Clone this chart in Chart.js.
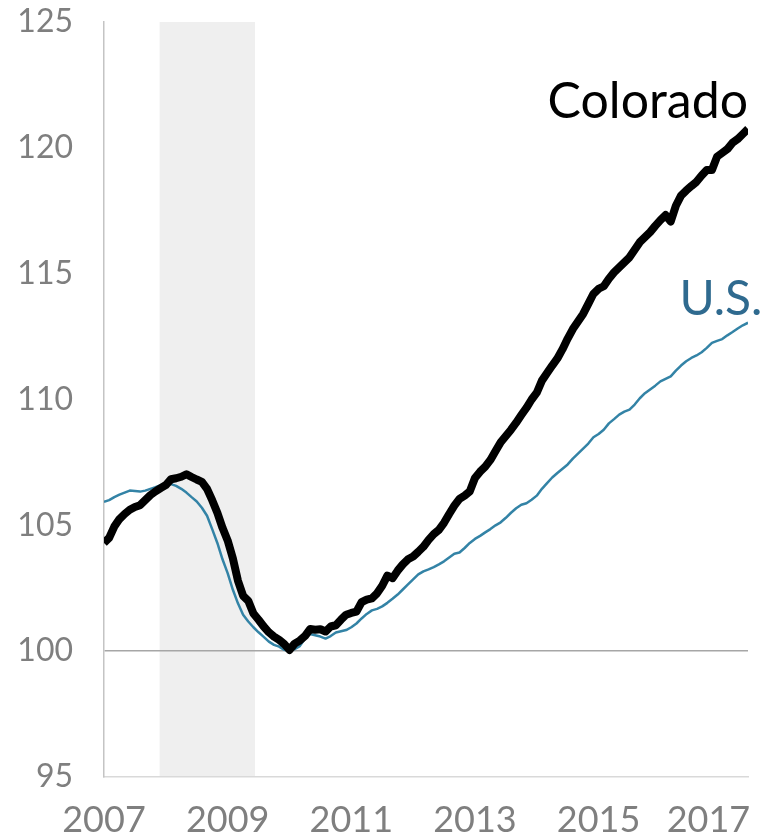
<!DOCTYPE html>
<html>
<head>
<meta charset="utf-8">
<script src="https://cdn.jsdelivr.net/npm/chart.js@4.4.1/dist/chart.umd.min.js"></script>
<style>
	body { margin: 0; background: #fff; }
	#canvas { display: block; }
</style>
</head>
<body>
<canvas id="canvas" width="765" height="837"></canvas>
<script>
// monthly index, Jan 2007 .. Jun 2017 (trough = 100)
const COLORADO = [
	104.3, 104.5, 104.95, 105.25, 105.45, 105.62, 105.73, 105.8, 106.0, 106.2,
	106.35, 106.48, 106.6, 106.83, 106.87, 106.93, 107.03, 106.92, 106.82, 106.73,
	106.45, 106.0, 105.5, 104.9, 104.4, 103.7, 102.8, 102.2, 102.0, 101.5,
	101.25, 100.98, 100.75, 100.58, 100.45, 100.28, 100.05, 100.3, 100.42, 100.6,
	100.88, 100.85, 100.87, 100.78, 100.98, 101.03, 101.25, 101.45, 101.52, 101.57,
	101.95, 102.05, 102.1, 102.3, 102.6, 103.0, 102.9, 103.2, 103.45, 103.65,
	103.76, 103.95, 104.15, 104.42, 104.65, 104.82, 105.1, 105.45, 105.78, 106.05,
	106.18, 106.35, 106.88, 107.13, 107.33, 107.6, 107.95, 108.3, 108.55, 108.8,
	109.08, 109.38, 109.67, 110.0, 110.27, 110.75, 111.05, 111.35, 111.63, 112.0,
	112.42, 112.8, 113.1, 113.4, 113.8, 114.2, 114.4, 114.5, 114.8, 115.05,
	115.25, 115.45, 115.65, 115.95, 116.25, 116.45, 116.65, 116.9, 117.13, 117.33,
	117.07, 117.7, 118.1, 118.3, 118.48, 118.65, 118.9, 119.12, 119.12, 119.65,
	119.8, 119.95, 120.2, 120.35, 120.55, 120.75,
];
const US = [
	105.93, 106.0, 106.12, 106.22, 106.3, 106.38, 106.36, 106.34, 106.38, 106.45,
	106.52, 106.6, 106.64, 106.64, 106.57, 106.45, 106.3, 106.12, 105.95, 105.7,
	105.38, 104.85, 104.3, 103.65, 103.1, 102.45, 101.9, 101.45, 101.18, 100.95,
	100.75, 100.57, 100.38, 100.25, 100.18, 100.05, 100.0, 100.08, 100.2, 100.5,
	100.68, 100.63, 100.58, 100.5, 100.6, 100.74, 100.79, 100.84, 100.95, 101.1,
	101.3, 101.48, 101.62, 101.68, 101.78, 101.92, 102.08, 102.25, 102.45, 102.65,
	102.85, 103.05, 103.17, 103.25, 103.34, 103.45, 103.57, 103.72, 103.87, 103.92,
	104.1, 104.3, 104.46, 104.58, 104.72, 104.85, 105.0, 105.12, 105.3, 105.5,
	105.68, 105.82, 105.88, 106.02, 106.18, 106.45, 106.68, 106.9, 107.08, 107.25,
	107.42, 107.65, 107.85, 108.05, 108.25, 108.5, 108.63, 108.8, 109.05, 109.22,
	109.4, 109.52, 109.6, 109.8, 110.05, 110.25, 110.4, 110.55, 110.72, 110.82,
	110.92, 111.15, 111.35, 111.52, 111.65, 111.75, 111.88, 112.05, 112.25, 112.33,
	112.4, 112.55, 112.68, 112.82, 112.95, 113.05,
];
const YEAR_LABELS = ["2007", "2009", "2011", "2013", "2015", "2017"];
const Y_TICKS = [95, 100, 105, 110, 115, 120, 125];
// recession Dec 2007 - Jun 2009, in months from Jan 2007
const RECESSION = [10.8, 29.3];

const GRAY = "#7f7f7f";
const FONT = "Lato";

const toPoints = (arr) => arr.map((v, i) => ({ x: i, y: v }));

const seriesLabels = [
	{ text: "Colorado", x: 125, y: 121.2, size: 50, color: "#000000" },
	{ text: "U.S.", x: 127.8, y: 113.35, size: 48, color: "#2f6a8f" },
];

const recessionShade = {
	id: "recessionShade",
	beforeDraw(chart) {
		const { ctx, chartArea, scales } = chart;
		const x0 = scales.x.getPixelForValue(RECESSION[0]);
		const x1 = scales.x.getPixelForValue(RECESSION[1]);
		ctx.save();
		ctx.fillStyle = "#efefef";
		ctx.fillRect(x0, chartArea.top, x1 - x0, chartArea.bottom - chartArea.top);
		ctx.restore();
	},
};

const endLabels = {
	id: "endLabels",
	afterDatasetsDraw(chart) {
		const { ctx, scales } = chart;
		ctx.save();
		ctx.textAlign = "right";
		ctx.textBaseline = "alphabetic";
		seriesLabels.forEach((l) => {
			ctx.font = l.size + "px " + FONT;
			ctx.fillStyle = l.color;
			ctx.fillText(l.text, scales.x.getPixelForValue(l.x), scales.y.getPixelForValue(l.y));
		});
		ctx.restore();
	},
};

const grafico = new Chart(document.getElementById("canvas"), {
	type: "line",
	data: {
		datasets: [
			{
				label: "Colorado",
				data: toPoints(COLORADO),
				borderColor: "#000000",
				borderWidth: 8,
				pointRadius: 0,
				tension: 0,
				borderJoinStyle: "round",
			},
			{
				label: "U.S.",
				data: toPoints(US),
				borderColor: "#3383a6",
				borderWidth: 2.5,
				pointRadius: 0,
				tension: 0,
				borderJoinStyle: "round",
			},
		],
	},
	options: {
		responsive: false,
		animation: false,
		layout: { padding: { top: 22, right: 17, left: 0, bottom: 0 } },
		plugins: {
			legend: { display: false },
			tooltip: { enabled: false },
		},
		scales: {
			x: {
				type: "linear",
				min: 0,
				max: COLORADO.length - 1,
				afterBuildTicks(axis) {
					axis.ticks = YEAR_LABELS.map((_, i) => ({ value: i * 24 }));
				},
				afterFit(axis) {
					axis.height = 60;
					axis.paddingLeft = 0;
					axis.paddingRight = 0;
				},
				ticks: {
					autoSkip: false,
					maxRotation: 0,
					padding: 22,
					color: GRAY,
					font: { family: FONT, size: 36 },
					// last label nudged left to stay inside the frame, like the original
					callback: (v, i) => (i === YEAR_LABELS.length - 1 ? YEAR_LABELS[i] + "   " : YEAR_LABELS[i]),
				},
				grid: { display: false, drawTicks: false },
				border: { display: true, color: "#d9d9d9", width: 1.5 },
			},
			y: {
				min: 95,
				max: 125,
				afterBuildTicks(axis) {
					axis.ticks = Y_TICKS.map((v) => ({ value: v }));
				},
				afterFit(axis) {
					axis.width = 104;
					axis.paddingTop = 0;
					axis.paddingBottom = 0;
				},
				ticks: {
					padding: 31,
					color: GRAY,
					font: { family: FONT, size: 32 },
				},
				grid: {
					drawTicks: false,
					lineWidth: 1.5,
					color: (c) => (c.tick && c.tick.value === 100 ? "#a6a6a6" : "rgba(0,0,0,0)"),
				},
				border: { display: true, color: "#c4c4c4", width: 1.5 },
			},
		},
	},
	plugins: [recessionShade, endLabels],
});
</script>
</body>
</html>
